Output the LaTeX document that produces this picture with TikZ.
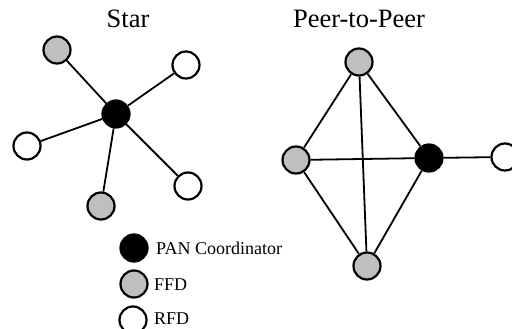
\documentclass[tikz,border=0pt]{standalone}
\usepackage{fontspec}
\setmainfont{Liberation Serif}
\begin{document}
\begin{tikzpicture}[x=1pt,y=-1pt,
  dev/.style={circle,draw=black,line width=2.2pt,minimum size=27pt,inner sep=0pt},
  pan/.style={dev,fill=black},
  ffd/.style={dev,fill=black!25},
  rfd/.style={dev,fill=white},
  link/.style={line width=1.8pt},
  title/.style={font=\fontsize{26.5}{28}\selectfont},
  lbl/.style={font=\fontsize{18}{20}\selectfont,anchor=west,inner sep=0pt}]
\useasboundingbox (0,0) rectangle (512,329);
% star topology
\node[title] (tstar) at (128,19) {Star};
\node[pan] (sc) at (116,114) {};
\node[ffd] (s1) at (57,50) {};
\node[rfd] (s2) at (186,65) {};
\node[rfd] (s3) at (27,146) {};
\node[rfd] (s4) at (188,186) {};
\node[ffd] (s5) at (101,206) {};
\foreach \n in {s1,s2,s3,s4,s5} \draw[link] (sc) -- (\n);
% peer-to-peer topology
\node[title] (tpeer) at (359,19) {Peer-to-Peer};
\node[ffd] (pt) at (359,62) {};
\node[ffd] (pl) at (296,160) {};
\node[pan] (pc) at (429,158) {};
\node[ffd] (pb) at (367,266) {};
\node[rfd] (pr) at (505,157) {};
\draw[link] (pt) -- (pl) (pt) -- (pc) (pt) -- (pb)
  (pl) -- (pc) (pl) -- (pb) (pc) -- (pb) (pc) -- (pr);
% legend
\node[pan] (kpan) at (134,248) {};
\node[ffd] (kffd) at (134,284) {};
\node[rfd] (krfd) at (133,320) {};
\node[lbl] (tpan) at (156,248) {PAN Coordinator};
\node[lbl] (tffd) at (154,285) {FFD};
\node[lbl] (trfd) at (154,319) {RFD};
\end{tikzpicture}
\end{document}
